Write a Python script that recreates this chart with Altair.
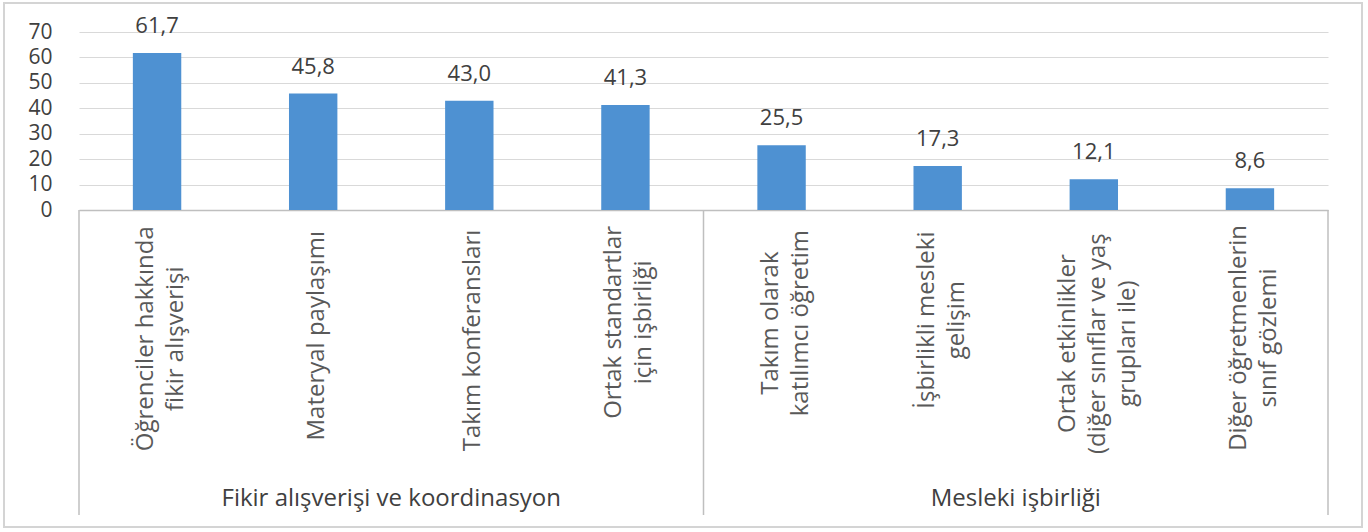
import altair as alt
import pandas as pd

categories = [
    "Öğrenciler hakkında\nfikir alışverişi",
    "Materyal paylaşımı",
    "Takım konferansları",
    "Ortak standartlar\niçin işbirliği",
    "Takım olarak\nkatılımcı öğretim",
    "İşbirlikli mesleki\ngelişim",
    "Ortak etkinlikler\n(diğer sınıflar ve yaş\ngrupları ile)",
    "Diğer öğretmenlerin\nsınıf gözlemi",
]
values = [61.7, 45.8, 43.0, 41.3, 25.5, 17.3, 12.1, 8.6]
groups = [
    "Fikir alışverişi ve koordinasyon",
    "Fikir alışverişi ve koordinasyon",
    "Fikir alışverişi ve koordinasyon",
    "Fikir alışverişi ve koordinasyon",
    "Mesleki işbirliği",
    "Mesleki işbirliği",
    "Mesleki işbirliği",
    "Mesleki işbirliği",
]
y_ticks = [0, 10, 20, 30, 40, 50, 60, 70]

W, H = 1249, 178
FONT = "Open Sans"
LABEL_FS = 24
LINE_H = 30
LABEL_SHIFT = 4  # px, small rightward nudge of the rotated label block
NCAT = len(categories)


def text_em(s):
    # rough Open Sans advance widths (em)
    total = 0.0
    for c in s:
        if c in "iılıjİ'|":
            total += 0.26
        elif c in " frt()":
            total += 0.34
        elif c in "mwMW":
            total += 0.9
        elif c.isupper():
            total += 0.66
        else:
            total += 0.55
    return total


df = pd.DataFrame({"cat": categories, "value": values, "group": groups})

# one row per label line
rows = []
for i, c in enumerate(categories):
    parts = c.split("\n")
    mx = max(text_em(p) for p in parts)
    for j, p in enumerate(parts):
        rows.append({"idx": i, "line": p, "j": j, "n": len(parts), "maxem": mx})
ldf = pd.DataFrame(rows)

# group spans
gstart, gcount, gname = [], [], []
for i, g in enumerate(groups):
    if not gname or gname[-1] != g:
        gname.append(g)
        gstart.append(i)
        gcount.append(1)
    else:
        gcount[-1] += 1
gdf = pd.DataFrame({"group": gname, "start": gstart, "n": gcount})
gdf["center"] = gdf["start"] + gdf["n"] / 2
sep_df = pd.DataFrame({"pos": sorted(set(gstart + [NCAT]))})

xband = alt.X(
    "cat:N",
    sort=categories,
    scale=alt.Scale(paddingInner=0, paddingOuter=0),
    axis=alt.Axis(labels=False, ticks=False, title=None, grid=False,
                  domainColor="#bfbfbf", domainWidth=1.5),
)

yaxis = alt.Axis(values=y_ticks, title=None, domain=False, ticks=False,
                 labelOverlap=False, labelPadding=27, labelFontSize=21,
                 labelFont=FONT, labelColor="#404040",
                 gridColor="#d9d9d9", gridWidth=1.2)
yscale = alt.Scale(domain=[0, 70], nice=False)

base = alt.Chart(df)

bars = base.mark_bar(color="#4e91d2", width={"band": 0.31}).encode(
    x=xband,
    y=alt.Y("value:Q", scale=yscale, axis=yaxis),
)

value_labels = base.transform_calculate(
    txt="replace(format(datum.value, '.1f'), '.', ',')"
).mark_text(
    baseline="alphabetic", dy=-20, fontSize=22, font=FONT, color="#404040"
).encode(
    x=alt.X("cat:N", sort=categories),
    y=alt.Y("value:Q", scale=yscale, axis=yaxis),
    text="txt:N",
)

xq = alt.Scale(domain=[0, NCAT], nice=False, zero=True)

cat_labels = alt.Chart(ldf).transform_calculate(
    xpos=(f"datum.idx + 0.5 + ((datum.j - (datum.n - 1) / 2) * {LINE_H} + {LABEL_SHIFT})"
          f" / ({W} / {NCAT})"),
    ypix=f"{H + 20} + datum.maxem * {LABEL_FS} / 2",
).mark_text(
    angle=270, align="center", baseline="middle",
    fontSize=LABEL_FS, font=FONT, color="#595959",
).encode(
    x=alt.X("xpos:Q", scale=xq, axis=None),
    y=alt.Y("ypix:Q", scale=None, axis=None),
    text="line:N",
)

separators = alt.Chart(sep_df).mark_rule(color="#bfbfbf", strokeWidth=1.5).encode(
    x=alt.X("pos:Q", scale=xq, axis=None),
    y=alt.value(H),
    y2=alt.value(483),
)

group_labels = alt.Chart(gdf).mark_text(
    baseline="middle", align="center", fontSize=24, font=FONT, color="#404040"
).encode(
    x=alt.X("center:Q", scale=xq, axis=None),
    y=alt.value(467),
    text="group:N",
)

border = alt.Chart(gdf).mark_rect(
    fill=None, stroke="#d4d4d4", strokeWidth=2
).encode(
    x=alt.value(-75), x2=alt.value(1283), y=alt.value(-29), y2=alt.value(495)
)

main = alt.layer(bars, value_labels)
extra = alt.layer(separators, cat_labels, group_labels)

chart = alt.layer(border, main, extra).resolve_scale(x="independent").properties(
    width=W,
    height=H,
    autosize=alt.AutoSizeParams(type="none"),
    padding={"left": 79, "top": 32, "right": 40, "bottom": 322},
    background="white",
).configure_view(stroke=None)

chart.save("out.html", embed_options={"renderer": "svg", "actions": False})
